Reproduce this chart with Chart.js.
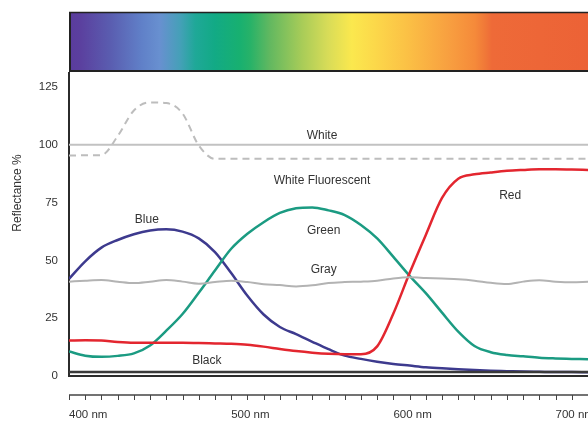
<!DOCTYPE html>
<html>
<head>
<meta charset="utf-8">
<script src="https://cdn.jsdelivr.net/npm/chart.js@4.4.1/dist/chart.umd.min.js"></script>
<style>
  html, body { margin: 0; padding: 0; background: #fff; }
  #wrap { width: 588px; height: 421px; }
</style>
</head>
<body>
<div id="wrap"><canvas id="chart" width="588" height="421"></canvas></div>
<script>
// ===== DATA =====
const wavelengths = [400, 410, 420, 430, 440, 450, 460, 470, 480, 490,
                     500, 510, 520, 530, 540, 550, 560, 570, 580, 590,
                     600, 610, 620, 630, 640, 650, 660, 670, 680, 690,
                     700, 710, 720];

const whiteValues = [100, 100, 100, 100, 100, 100, 100, 100, 100, 100,
                     100, 100, 100, 100, 100, 100, 100, 100, 100, 100,
                     100, 100, 100, 100, 100, 100, 100, 100, 100, 100,
                     100, 100, 100];

const whiteFluorValues = [95.3, 95.4, 95.5, 103.7, 114.8, 118.3, 118, 113.5, 99.7, 93.9,
                          93.9, 93.9, 93.9, 93.9, 93.9, 93.9, 93.9, 93.9, 93.9, 93.9,
                          93.9, 93.9, 93.9, 93.9, 93.9, 93.9, 93.9, 93.9, 93.9, 93.9,
                          93.9, 93.9, 93.9];

const blueValues = [42, 49.6, 55.5, 58.8, 61.3, 62.9, 63.4, 62.4, 59.5, 53.6,
                    44.5, 34.7, 26.6, 21.2, 18.1, 14.8, 11.6, 8.8, 7.4, 6.2,
                    5.2, 4.5, 3.8, 3.3, 2.9, 2.6, 2.3, 2.1, 1.9, 1.8,
                    1.7, 1.7, 1.6];

const greenValues = [10.6, 8.8, 8.3, 8.7, 9.8, 13.2, 19.6, 26.8, 36, 45.6,
                     55, 61.5, 66.5, 70.5, 72.5, 72.9, 71.6, 69.6, 65.3, 59.5,
                     51.5, 43.3, 35.8, 27.4, 19.2, 13, 10.3, 9.1, 8.5, 7.9,
                     7.6, 7.4, 7.2];

const redValues = [15.3, 15.5, 15.3, 14.7, 14.4, 14.4, 14.4, 14.4, 14.3, 14.1,
                   13.9, 13.5, 12.7, 11.7, 10.8, 10.1, 9.6, 9.4, 9.4, 12.8,
                   27, 44.5, 61, 77, 85.3, 87.2, 88, 88.7, 89.1, 89.4,
                   89.4, 89.3, 89.1];

const grayValues = [40.8, 41.2, 41.5, 40.8, 40.2, 40.8, 41.5, 40.8, 39.9, 40.6,
                    41.2, 40.6, 39.7, 39.3, 38.7, 39.2, 40.2, 40.6, 40.8, 41.2,
                    42.2, 42.7, 42.4, 42.1, 41.8, 41.2, 40.3, 39.8, 40.8, 41.4,
                    40.8, 40.5, 40.7];

const blackValues = [1.7, 1.7, 1.7, 1.7, 1.7, 1.7, 1.7, 1.7, 1.7, 1.7,
                     1.7, 1.7, 1.7, 1.7, 1.7, 1.7, 1.7, 1.7, 1.7, 1.7,
                     1.7, 1.7, 1.7, 1.7, 1.7, 1.7, 1.7, 1.7, 1.7, 1.7,
                     1.7, 1.7, 1.7];

const yTicks = [0, 25, 50, 75, 100, 125];
const xTicks = [400, 500, 600, 700];

// curve names written inside the plot, anchored in data space (nm, %)
const labelTexts = ['White', 'White Fluorescent', 'Blue', 'Green', 'Gray', 'Red', 'Black'];
const labelNm = [556, 556, 448, 557, 557, 672, 485];
const labelPct = [104, 84.3, 67.5, 62.7, 45.8, 77.9, 6.5];

const FONT = '"Liberation Sans", Arial, sans-serif';
const TEXT = '#333';

// ===== PLUGINS =====
const spectrumBar = {
    id: 'spectrumBar',
    beforeDraw(chart) {
        const { ctx, chartArea } = chart;
        ctx.save();
        ctx.fillStyle = '#fff';
        ctx.fillRect(0, 0, chart.width, chart.height);

        const x0 = chartArea.left, x1 = chartArea.right;
        const top = 12, bottom = 71;
        const g = ctx.createLinearGradient(x0, 0, x1, 0);
        [[0.00, '#5a3c9c'], [0.02, '#5b3f9e'], [0.08, '#5a5db0'], [0.14, '#6080c8'],
         [0.175, '#6890d0'], [0.214, '#45a0b8'], [0.243, '#1fa898'], [0.281, '#12aa85'],
         [0.329, '#18b070'], [0.35, '#28b268'], [0.387, '#62b860'], [0.449, '#a8cc58'],
         [0.499, '#d8dc58'], [0.545, '#fbe84e'], [0.59, '#fcd84a'], [0.653, '#fbc045'],
         [0.73, '#f8a040'], [0.782, '#f58a3a'], [0.802, '#f07838'], [0.815, '#ee6a38'],
         [1.00, '#ec6236']].forEach(s => g.addColorStop(s[0], s[1]));
        ctx.fillStyle = g;
        ctx.fillRect(x0, top, x1 - x0, bottom - top);

        ctx.strokeStyle = '#222';
        ctx.lineWidth = 1.5;
        ctx.beginPath();
        ctx.moveTo(x0, top + 0.5); ctx.lineTo(x1, top + 0.5);
        ctx.stroke();
        ctx.lineWidth = 2;
        ctx.beginPath();
        ctx.moveTo(x0, bottom); ctx.lineTo(x1, bottom);
        ctx.moveTo(x0 + 1, top); ctx.lineTo(x0 + 1, bottom);
        ctx.stroke();
        ctx.restore();
    }
};

const ruler = {
    id: 'ruler',
    afterDraw(chart) {
        const { ctx, chartArea } = chart;
        const xs = chart.scales.x;
        const y = chartArea.bottom + 19;
        ctx.save();
        ctx.strokeStyle = '#444';
        ctx.lineWidth = 1.5;
        ctx.beginPath();
        ctx.moveTo(chartArea.left, y); ctx.lineTo(chartArea.right, y);
        ctx.stroke();
        ctx.lineWidth = 1;
        ctx.beginPath();
        for (let nm = xs.min; nm <= xs.max; nm += 10) {
            const px = Math.round(xs.getPixelForValue(nm)) + 0.5;
            ctx.moveTo(px, y); ctx.lineTo(px, y + 5);
        }
        ctx.stroke();

        // y axis title
        ctx.fillStyle = TEXT;
        ctx.font = '12px ' + FONT;
        ctx.textAlign = 'center';
        ctx.textBaseline = 'middle';
        ctx.translate(18, 193);
        ctx.rotate(-Math.PI / 2);
        ctx.fillText('Reflectance %', 0, 0);
        ctx.restore();
    }
};

const curveLabels = {
    id: 'curveLabels',
    afterDatasetsDraw(chart) {
        const { ctx } = chart;
        const xs = chart.scales.x, ys = chart.scales.y;
        ctx.save();
        ctx.fillStyle = TEXT;
        ctx.font = '12px ' + FONT;
        ctx.textAlign = 'center';
        ctx.textBaseline = 'middle';
        labelTexts.forEach((t, i) => {
            ctx.fillText(t, xs.getPixelForValue(labelNm[i]), ys.getPixelForValue(labelPct[i]));
        });
        ctx.restore();
    }
};

// ===== CHART =====
function line(data, color, width, dash) {
    return {
        data: data,
        borderColor: color,
        borderWidth: width,
        borderDash: dash || [],
        pointRadius: 0,
        fill: false,
        cubicInterpolationMode: 'monotone'
    };
}

new Chart(document.getElementById('chart'), {
    type: 'line',
    data: {
        labels: wavelengths,
        datasets: [
            line(whiteValues, '#c2c2c2', 2),
            line(whiteFluorValues, '#bdbdbd', 2, [7, 5]),
            line(grayValues, '#b3b3b3', 2),
            line(blackValues, '#3a3a3a', 2.5),
            line(redValues, '#e3262f', 2.5),
            line(greenValues, '#1b9b82', 2.5),
            line(blueValues, '#3d3a8e', 2.5)
        ]
    },
    options: {
        responsive: false,
        animation: false,
        layout: { padding: { top: 73, left: 0, right: 0, bottom: 0 } },
        plugins: { legend: { display: false }, tooltip: { enabled: false } },
        scales: {
            x: {
                type: 'linear',
                min: 400, max: 720,
                grid: { display: false, drawTicks: false },
                border: { display: true, color: '#2b2b2b', width: 2 },
                afterFit: s => { s.height = 45; s.paddingLeft = 0; s.paddingRight = 0; },
                afterBuildTicks: s => { s.ticks = xTicks.map(v => ({ value: v })); },
                ticks: {
                    align: 'start',
                    padding: 32,
                    color: TEXT,
                    font: { family: FONT, size: 11.5 },
                    maxRotation: 0,
                    autoSkip: false,
                    callback: v => v + ' nm'
                }
            },
            y: {
                min: 0, max: 131,
                grid: { display: false, drawTicks: false },
                border: { display: true, color: '#2b2b2b', width: 2 },
                afterFit: s => { s.width = 69; s.paddingTop = 0; s.paddingBottom = 0; },
                afterBuildTicks: s => { s.ticks = yTicks.map(v => ({ value: v })); },
                ticks: {
                    padding: 11,
                    color: TEXT,
                    font: { family: FONT, size: 11.5 }
                }
            }
        }
    },
    plugins: [spectrumBar, ruler, curveLabels]
});
</script>
</body>
</html>
